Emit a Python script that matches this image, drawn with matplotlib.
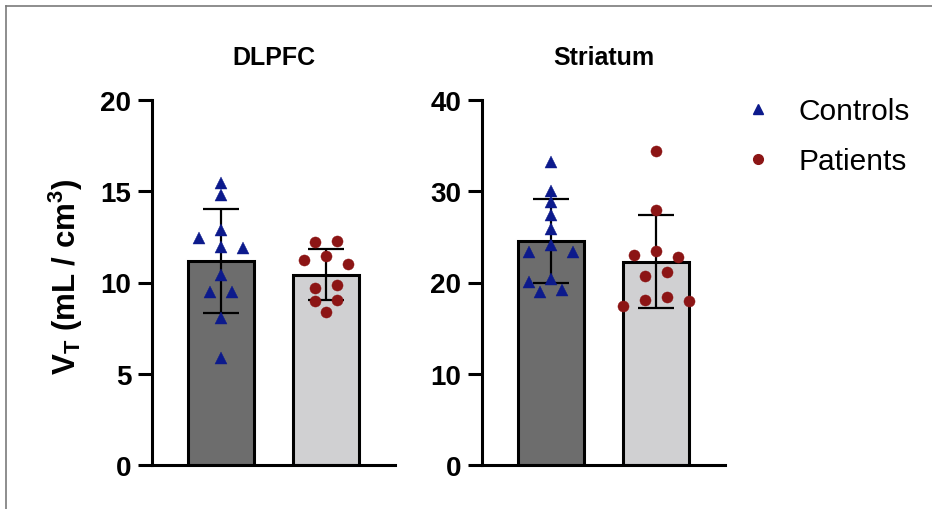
import numpy as np
import matplotlib
matplotlib.use("Agg")
import matplotlib.pyplot as plt
from matplotlib.lines import Line2D

plt.rcParams['font.family'] = 'Liberation Sans'
plt.rcParams['mathtext.fontset'] = 'custom'
plt.rcParams['mathtext.rm'] = 'Liberation Sans'
plt.rcParams['mathtext.bf'] = 'Liberation Sans:bold'

# data (V_T, mL/cm^3)
regions = ['DLPFC', 'Striatum']
groups = ['Controls', 'Patients']
dlpfc_controls = [15.45, 14.8, 12.9, 12.45, 11.93, 11.87, 10.4, 9.5, 9.5, 8.05, 5.85]
dlpfc_patients = [12.29, 12.2, 11.47, 11.23, 11.01, 9.86, 9.7, 9.06, 9.0, 8.37]
str_controls = [33.24, 30.07, 28.86, 27.4, 25.86, 24.11, 23.3, 23.3, 20.38, 20.09, 19.21, 18.92]
str_patients = [34.37, 27.98, 23.4, 23.05, 22.76, 21.11, 20.67, 18.37, 18.08, 18.0, 17.46]
ymaxes = [20, 40]
yticks = [[0, 5, 10, 15, 20], [0, 10, 20, 30, 40]]

bar_cols = ['#6d6d6d', '#d0d0d2']
pt_cols = ['#0c1a8c', '#8c1515']
markers = ['^', 'o']

W, H = 932, 510
fig = plt.figure(figsize=(W / 100, H / 100), dpi=100)
axpos = [[152 / W, 1 - 466 / H, 243 / W, 365 / H],
         [482 / W, 1 - 466 / H, 243 / W, 365 / H]]
xlim = (-0.657, 1.657)
bw = 0.63


def swarm(vals, ppu, step=11, dx_thr=22, dy_thr=11, chain=6):
    # simple beeswarm in pixels, then center tight rows
    vals = np.asarray(vals, float)
    ys = vals * ppu
    order = list(np.argsort(-vals, kind='stable'))
    offs = np.zeros(len(vals))
    cands = [0] + [s * k * step for k in range(1, 12) for s in (-1, 1)]

    def hit(i, x, others, o):
        for j in others:
            if ((x - o[j]) / dx_thr) ** 2 + ((ys[i] - ys[j]) / dy_thr) ** 2 < 1:
                return True
        return False

    placed = []
    for i in order:
        for c in cands:
            if not hit(i, c, placed, offs):
                offs[i] = c
                break
        placed.append(i)

    rows, cur = [], [order[0]]
    for a, b in zip(order[:-1], order[1:]):
        if ys[a] - ys[b] < chain:
            cur.append(b)
        else:
            rows.append(cur)
            cur = [b]
    rows.append(cur)
    for g in rows:
        if len(g) < 2:
            continue
        new = offs.copy()
        new[g] += -offs[g].mean()
        rest = [j for j in order if j not in g]
        if not any(hit(i, new[i], rest, new) for i in g):
            offs = new
    return offs


data = [[dlpfc_controls, dlpfc_patients], [str_controls, str_patients]]
for k, ax in enumerate([fig.add_axes(p) for p in axpos]):
    ax.set_xlim(*xlim)
    ax.set_ylim(0, ymaxes[k])
    ppu_y = axpos[k][3] * H / ymaxes[k]
    ppu_x = axpos[k][2] * W / (xlim[1] - xlim[0])
    for g in range(2):
        v = np.array(data[k][g])
        m, sd = v.mean(), v.std(ddof=1)
        ax.bar(g, m, width=bw, color=bar_cols[g], edgecolor='black',
               linewidth=2.2, zorder=2)
        ax.errorbar(g, m, yerr=sd, color='black', lw=1.6, capsize=13,
                    capthick=1.6, zorder=3)
        xo = swarm(v, ppu_y) / ppu_x
        ax.plot(g + xo, v, linestyle='none', marker=markers[g], ms=8,
                color=pt_cols[g], mec=pt_cols[g], mew=0.3, zorder=4,
                clip_on=False)
    for s in ['top', 'right']:
        ax.spines[s].set_visible(False)
    for s in ['left', 'bottom']:
        ax.spines[s].set_linewidth(2.2)
    ax.set_xticks([])
    ax.set_yticks(yticks[k])
    ax.tick_params(axis='y', length=10, width=2.2, pad=5, labelsize=20)
    for t in ax.get_yticklabels():
        t.set_fontweight('bold')
    ax.set_title(regions[k], fontsize=18, fontweight='bold', pad=26)

fig.text(66 / W, 1 - 277 / H, r'V$_\mathbf{T}$ (mL / cm$^\mathbf{3}$)',
         rotation=90, ha='center', va='center', fontsize=22.5, fontweight='bold')

handles = [Line2D([], [], linestyle='none', marker=markers[g], ms=7,
                  color=pt_cols[g]) for g in range(2)]
fig.legend(handles, groups, loc='upper left', bbox_to_anchor=(743 / W, 1 - 98 / H),
           frameon=False, fontsize=21.5, handlelength=1.0, handletextpad=0.85,
           labelspacing=0.75, borderpad=0, borderaxespad=0)

# frame of the screenshot (top and left edges only)
fig.add_artist(Line2D([6 / W, 1], [1 - 7 / H, 1 - 7 / H], color='#7a7a7a', lw=1.2))
fig.add_artist(Line2D([6 / W, 6 / W], [0, 1 - 7 / H], color='#7a7a7a', lw=1.2))

fig.savefig('out.png', dpi=100)
